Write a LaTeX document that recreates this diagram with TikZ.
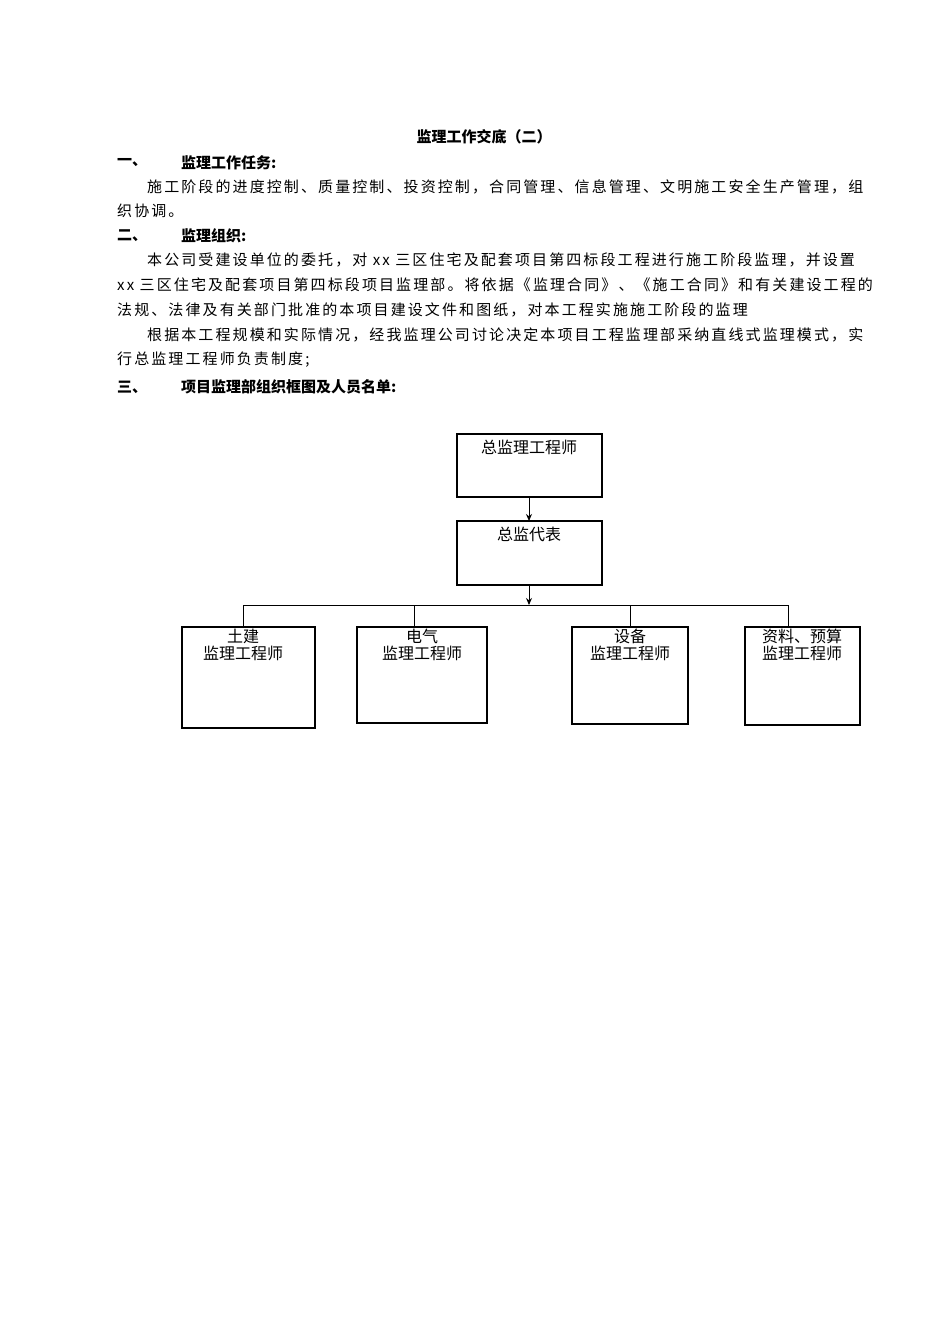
\documentclass[tikz,border=0pt]{standalone}
\usepackage{fontspec}
\setmainfont{Noto Sans CJK SC}
\newfontfamily\bodyf[LetterSpace=14]{Noto Sans CJK SC}
\usetikzlibrary{arrows.meta}
\begin{document}
\begin{tikzpicture}[x=1pt,y=-1pt,
  txt/.style={anchor=west,inner sep=0,font=\bodyf\fontsize{15}{15}\selectfont},
  hd/.style={anchor=west,inner sep=0,font=\bfseries\fontsize{15}{15}\selectfont},
  bx/.style={draw,thick,line width=1.2pt},
  lb/.style={inner sep=0,font=\fontsize{16}{17}\selectfont,align=center,anchor=north},
  ar/.style={-{Stealth[length=7pt,width=6pt]},line width=1pt},
  ln/.style={line width=1pt}]
\useasboundingbox (0,0) rectangle (950,1344);
\node[hd,anchor=center] (title) at (484,137) {监理工作交底（二）};
\node[hd] (h1a) at (117,163) {一、};
\node[hd] (h1b) at (181,163) {监理工作任务:};
\node[txt] (p1) at (147,187) {施工阶段的进度控制、质量控制、投资控制，合同管理、信息管理、文明施工安全生产管理，组};
\node[txt] (p2) at (117,211) {织协调。};
\node[hd] (h2a) at (117,236) {二、};
\node[hd] (h2b) at (181,236) {监理组织:};
\node[txt] (p3) at (147,260) {本公司受建设单位的委托，对 xx 三区住宅及配套项目第四标段工程进行施工阶段监理，并设置};
\node[txt] (p4) at (117,285) {xx 三区住宅及配套项目第四标段项目监理部。将依据《监理合同》、《施工合同》和有关建设工程的};
\node[txt] (p5) at (117,310) {法规、法律及有关部门批准的本项目建设文件和图纸，对本工程实施施工阶段的监理};
\node[txt] (p6) at (147,335) {根据本工程规模和实际情况，经我监理公司讨论决定本项目工程监理部采纳直线式监理模式，实};
\node[txt] (p7) at (117,360) {行总监理工程师负责制度;};
\node[hd] (h3a) at (117,387) {三、};
\node[hd] (h3b) at (181,387) {项目监理部组织框图及人员名单:};

\draw[bx] (457,434) rectangle (602,497);
\coordinate (b1) at (529,497);
\node[lb] (t1) at (529,440) {总监理工程师};
\draw[bx] (457,521) rectangle (602,585);
\coordinate (b2t) at (529,521);
\coordinate (b2b) at (529,585);
\node[lb] (t2) at (529,527) {总监代表};
\draw[ar] (b1) -- (b2t);
\coordinate (bus) at (529,605);
\draw[ar] (b2b) -- (bus);
\coordinate (L) at (243,605); \coordinate (R) at (788,605);
\draw[ln] (L) -- (R);
\draw[bx] (182,627) rectangle (315,728);
\draw[bx] (357,627) rectangle (487,723);
\draw[bx] (572,627) rectangle (688,724);
\draw[bx] (745,627) rectangle (860,725);
\coordinate (d1) at (243,627); \coordinate (d2) at (414,627);
\coordinate (d3) at (630,627); \coordinate (d4) at (788,627);
\coordinate (u2) at (414,605); \coordinate (u3) at (630,605);
\draw[ln] (L) -- (d1); \draw[ln] (u2) -- (d2); \draw[ln] (u3) -- (d3); \draw[ln] (R) -- (d4);
\node[lb] (c1) at (243,629) {土建\\监理工程师};
\node[lb] (c2) at (422,629) {电气\\监理工程师};
\node[lb] (c3) at (630,629) {设备\\监理工程师};
\node[lb] (c4) at (802,629) {资料、预算\\监理工程师};
\end{tikzpicture}
\end{document}
